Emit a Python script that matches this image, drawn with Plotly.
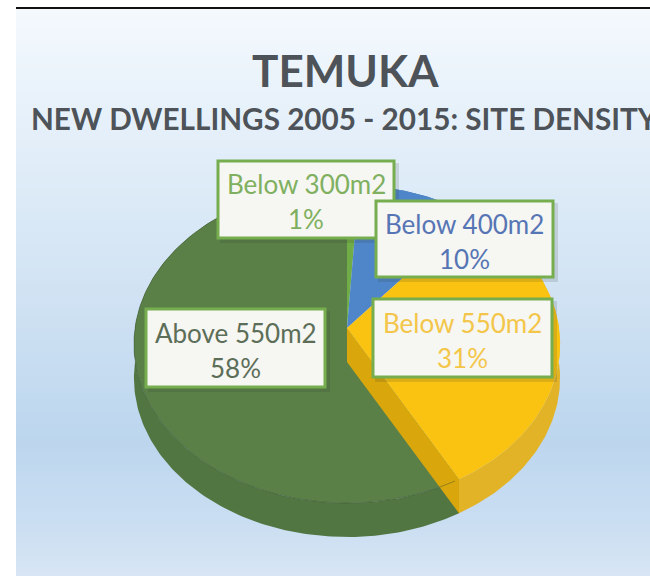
import math
import plotly.graph_objects as go

categories = ["Below 300m2", "Below 400m2", "Below 550m2", "Above 550m2"]
values = [1, 10, 31, 58]
title_main = "TEMUKA"
title_sub = "NEW DWELLINGS 2005 - 2015: SITE DENSITY"

top_colors = {"Below 300m2": "#70ad47", "Below 400m2": "#4f86c9", "Below 550m2": "#fac312", "Above 550m2": "#5a8048"}
side_colors = {"Below 300m2": "#5f9a3c", "Below 400m2": "#3f6fa8", "Below 550m2": "#e2b327", "Above 550m2": "#527642"}
text_colors = {"Below 300m2": "#7fb060", "Below 400m2": "#5675b5", "Below 550m2": "#f3c64a", "Above 550m2": "#5c6e58"}
boxes = {"Below 300m2": (218, 394, 161, 238), "Below 400m2": (376, 553, 201, 277),
         "Below 550m2": (373, 552, 299, 377), "Above 550m2": (146, 325, 309, 387)}

CX, CY, A, B, K, DEPTH = 347, 328, 212, 157.4, 0.1006, 34


def project(theta):
    u, v = math.sin(theta), math.cos(theta)
    w = 1 + K * v
    return CX + A * u / w, CY - B * v / w


def rim(start, end):
    n = max(4, int(abs(end - start) * 60))
    return [project(start + (end - start) * i / n) for i in range(n + 1)]


spans = {}
acc = 0.0
for name, val in zip(categories, values):
    spans[name] = (acc / sum(values) * 2 * math.pi, (acc + val) / sum(values) * 2 * math.pi)
    acc += val

fig = go.Figure()


def poly(points, color):
    fig.add_trace(go.Scatter(x=[p[0] for p in points] + [points[0][0]], y=[p[1] for p in points] + [points[0][1]],
                             mode="lines", fill="toself", fillcolor=color, line=dict(width=0, color=color),
                             hoverinfo="skip", showlegend=False))


def draw_slice(name, wall=False):
    s, e = spans[name]
    r = rim(s, e)
    poly(r + [(x, y + DEPTH) for x, y in reversed(r)], side_colors[name])
    if wall:
        x0, y0 = r[-1]
        poly([(CX, CY), (x0, y0), (x0, y0 + DEPTH), (CX, CY + DEPTH)], "#d9a70c")
    poly([(CX, CY)] + r, top_colors[name])


for name in ["Above 550m2", "Below 300m2", "Below 400m2"]:
    draw_slice(name)
draw_slice("Below 550m2", wall=True)

# faint seam along the front of the top face
s, e = spans["Above 550m2"]
seam = rim(s + 0.02, e)
fig.add_trace(go.Scatter(x=[p[0] for p in seam], y=[p[1] for p in seam], mode="lines",
                         line=dict(width=1, color="rgba(50,70,40,0.4)"), hoverinfo="skip", showlegend=False))

# background gradient
stops = [(9, (244, 249, 253)), (150, (226, 238, 249)), (300, (208, 226, 243)), (440, (188, 214, 238)),
         (520, (202, 222, 242)), (576, (215, 229, 244))]


def bg(y):
    for (y0, c0), (y1, c1) in zip(stops, stops[1:]):
        if y <= y1:
            t = (y - y0) / (y1 - y0)
            return "rgb(%d,%d,%d)" % tuple(round(a + (b - a) * t) for a, b in zip(c0, c1))
    return "rgb(%d,%d,%d)" % stops[-1][1]


shapes = []
for y in range(9, 576, 6):
    shapes.append(dict(type="rect", xref="x", yref="y", x0=16, x1=650, y0=y, y1=y + 6, layer="below",
                       fillcolor=bg(y + 3), line=dict(width=0)))
shapes.append(dict(type="line", xref="x", yref="y", x0=16, x1=650, y0=8, y1=8, line=dict(color="#111111", width=2)))

annotations = [
    dict(x=345, y=70, text="<b>%s</b>" % title_main, font=dict(size=44, color="#4d5358", family="Lato")),
    dict(x=344, y=118, text="<b>%s</b>" % title_sub, font=dict(size=29.7, color="#4d5358", family="Lato")),
]
for name in ["Above 550m2", "Below 550m2", "Below 300m2", "Below 400m2"]:
    x0, x1, y0, y1 = boxes[name]
    val = values[categories.index(name)]
    shapes.append(dict(type="rect", xref="x", yref="y", x0=x0 + 2, x1=x1 + 5, y0=y0 + 2, y1=y1 + 5, layer="above",
                       fillcolor="rgba(40,50,40,0.14)", line=dict(width=0)))
    shapes.append(dict(type="rect", xref="x", yref="y", x0=x0, x1=x1, y0=y0, y1=y1, layer="above",
                       fillcolor="#f6f6f2", line=dict(color="#75ad4f", width=3)))
    yc = (y0 + y1) / 2 + 2
    for line, dy in ((name, -17.5), ("%d%%" % val, 17.5)):
        annotations.append(dict(x=(x0 + x1) / 2, y=yc + dy, text=line,
                                font=dict(size=26, color=text_colors[name], family="Lato")))
for a in annotations:
    a.update(xref="x", yref="y", showarrow=False, xanchor="center", yanchor="middle")

fig.update_layout(width=650, height=576, margin=dict(l=0, r=0, t=0, b=0), paper_bgcolor="white", plot_bgcolor="white",
                  xaxis=dict(range=[0, 650], visible=False, fixedrange=True),
                  yaxis=dict(range=[576, 0], visible=False, fixedrange=True),
                  shapes=shapes, annotations=annotations, showlegend=False)
fig.write_html("out.html", config=dict(displayModeBar=False),
               post_script="document.body.style.margin='0';document.body.style.overflow='hidden';")
